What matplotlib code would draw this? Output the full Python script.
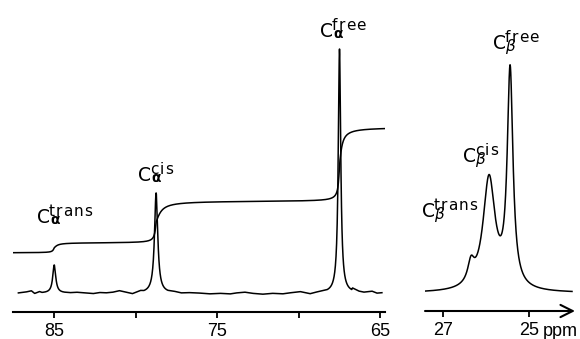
import numpy as np
import matplotlib
matplotlib.use("Agg")
import matplotlib.pyplot as plt
from matplotlib.transforms import IdentityTransform

plt.rcParams["font.family"] = ["Liberation Sans", "DejaVu Sans"]

# ---------------- data: C-alpha region (left panel) ----------------
alpha_names = ["trans", "cis", "free"]
alpha_ppm = [85.0, 78.75, 67.5]
alpha_height = [28, 100, 244]
alpha_hwhm = [0.11, 0.12, 0.09]
alpha_int_step = [10, 42, 74]
alpha_int_w_before = [0.08, 0.08, 0.07]
alpha_int_w_after = [0.2, 0.3, 0.15]
alpha_int_offset = 40
alpha_ticks = [85, 80, 75, 70, 65]
alpha_ticklabels = ["85", "", "75", "", "65"]

# baseline noise (ppm, deviation)
noise_ppm = [87.2, 86.7, 86.4, 86.2, 85.9, 84.45, 84.0, 83.6, 83.2, 82.6, 82.2,
             81.8, 81.4, 81.0, 80.5, 80.2, 79.7, 77.6, 77.2, 76.7, 76.1, 75.45,
             74.8, 74.2, 73.8, 73.3, 72.8, 72.2, 71.6, 70.97, 70.5, 69.9, 69.3,
             68.9, 66.7, 66.3, 66.0, 65.5, 65.2, 64.9]
noise_dev = [0, 1, 2, -0.7, 1, 2, 0, 0.5, 0, -0.7, 0.3,
             0, 0.6, 2, 0, -1.3, 1, 0.5, -0.5, 0, -0.3, -1,
             -0.5, -1, 0, 0.7, -0.5, -1.3, -0.5, -1, 0, 1, -1.3,
             0, 2, 0.5, 0, 1.3, -0.5, 0]

# ---------------- data: C-beta region (right panel) ----------------
beta_names = ["trans", "cis", "free"]
beta_ppm = [26.35, 25.93, 25.44]
beta_height = [20, 112, 216]
beta_hwhm = [0.09, 0.17, 0.08]
beta_ticks = [27, 25]
beta_ticklabels = ["27", "25"]


def lorentz(x, x0, h, g):
    return h * g ** 2 / ((x - x0) ** 2 + g ** 2)


W, H = 580, 339
fig = plt.figure(figsize=(W / 100, H / 100), dpi=100)

# ---- left panel ----
axL = fig.add_axes([13 / W, 27 / H, 372 / W, 312 / H])
xlimL = (87.53, 64.71)
win = 0.75
dense = np.concatenate([np.linspace(p - win, p + win, 500) for p in alpha_ppm])
npm = np.array(noise_ppm)
ndv = np.array(noise_dev, dtype=float)
keep = np.all(np.abs(npm[:, None] - np.array(alpha_ppm)[None, :]) > win, axis=1)
xs = np.concatenate([dense, npm[keep]])
ns = np.concatenate([np.zeros_like(dense), ndv[keep]])
o = np.argsort(xs)
xs, ns = xs[o], ns[o]
ys = ns.copy()
for p, h, g in zip(alpha_ppm, alpha_height, alpha_hwhm):
    ys += lorentz(xs, p, h, g)
axL.plot(xs, ys, color="black", lw=1.1)

xi = np.linspace(xlimL[0], xlimL[1], 3000)
yi = np.full_like(xi, float(alpha_int_offset))
for p, s, wb, wa in zip(alpha_ppm, alpha_int_step, alpha_int_w_before, alpha_int_w_after):
    w = np.where(xi < p, wa, wb)
    yi += s * (0.5 + np.arctan((p - xi) / w) / np.pi)
axL.plot(xi, yi, color="black", lw=1.1)

axL.set_xlim(*xlimL)
axL.set_ylim(-19, 293)
axL.set_xticks(alpha_ticks)
axL.set_xticklabels(alpha_ticklabels)
axL.set_yticks([])
for s in ["top", "left", "right"]:
    axL.spines[s].set_visible(False)
axL.spines["bottom"].set_linewidth(1.5)
axL.tick_params(axis="x", direction="out", length=4, width=1.3, labelsize=13, pad=4)
axL.patch.set_alpha(0)

# ---- right panel ----
axR = fig.add_axes([425 / W, 28 / H, 150 / W, 311 / H])
xlimR = (27.42, 23.93)
xb = np.linspace(xlimR[0], 24.0, 2000)
yb = np.zeros_like(xb)
for p, h, g in zip(beta_ppm, beta_height, beta_hwhm):
    yb += lorentz(xb, p, h, g)
axR.plot(xb, yb, color="black", lw=1.1)
axR.set_xlim(*xlimR)
axR.set_ylim(-18, 293)
axR.set_xticks(beta_ticks)
axR.set_xticklabels(beta_ticklabels)
axR.set_yticks([])
for s in ["top", "left", "right", "bottom"]:
    axR.spines[s].set_visible(False)
axR.tick_params(axis="x", direction="out", length=4, width=1.3, labelsize=13, pad=4)
axR.annotate("", xy=(1.0, 0), xytext=(0, 0), xycoords="axes fraction",
             textcoords="axes fraction",
             arrowprops=dict(arrowstyle="->", lw=1.5, mutation_scale=22,
                             shrinkA=0, shrinkB=0, color="black"))
axR.patch.set_alpha(0)
fig.text(543 / W, 1 - 331 / H, "ppm", fontsize=13, ha="left", va="center")

# ---- peak labels (C with wide-spaced superscript and Greek subscript) ----
renderer = fig.canvas.get_renderer()
ident = IdentityTransform()


def txt(x, y, s, **kw):
    t = fig.text(x, H - y, s, transform=ident, ha="left", va="baseline", **kw)
    return t.get_window_extent(renderer)


def tracked(x, y, s, size, track):
    for ch in s:
        bb = txt(x, y, ch, fontsize=size, family="DejaVu Sans")
        x = bb.x1 + track


def lab(x, y, sup, greek):
    bb = txt(x, y, "C", fontsize=13.5, family="DejaVu Sans")
    cr = bb.x1
    tracked(cr - 1.0, y - 7, sup, 11, 1.0)
    if greek == "alpha":
        txt(cr + 0.5, y + 1, "\u03b1", fontsize=10, family="DejaVu Sans",
            fontweight="bold")
    else:
        txt(cr - 0.5, y + 2, "\u03b2", fontsize=11, family="DejaVu Sans",
            style="italic")


lab(37, 223, alpha_names[0], "alpha")
lab(138, 181, alpha_names[1], "alpha")
lab(320, 37, alpha_names[2], "alpha")
lab(422, 217, beta_names[0], "beta")
lab(463, 162, beta_names[1], "beta")
lab(493, 49, beta_names[2], "beta")

fig.savefig("out.png", dpi=100)
